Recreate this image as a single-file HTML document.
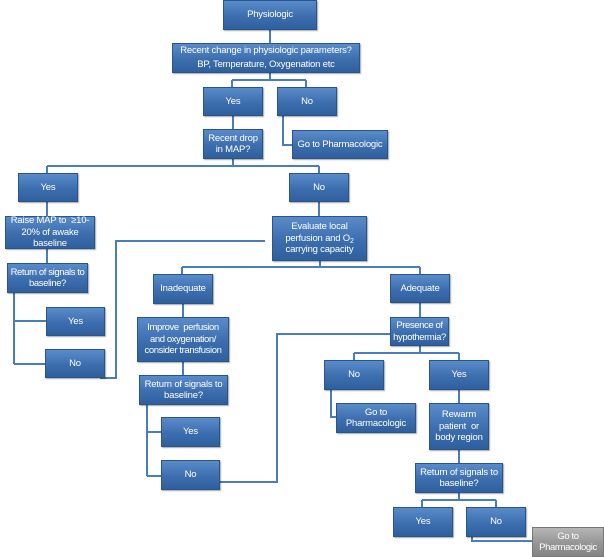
<!DOCTYPE html>
<html><head><style>
body{margin:0;background:#fff;width:604px;height:557px;position:relative;overflow:hidden;font-family:"Liberation Sans",sans-serif}
.b{position:absolute;box-sizing:border-box;background:linear-gradient(#5a8bc9,#3c6eaf 55%,#2f5f9d);border:1px solid #2a558c;color:#fff;font-size:9.5px;line-height:11.5px;display:flex;align-items:center;justify-content:center;text-align:center;box-shadow:1px 1px 1px rgba(0,0,0,.35);white-space:nowrap;letter-spacing:-0.2px}
.b>span{display:block}
.g{background:linear-gradient(#b5b5b5,#959595 55%,#858585);border-color:#777}
sub{font-size:7px;line-height:0;vertical-align:-2px}
svg{position:absolute;left:0;top:0}
</style></head><body>
<svg width="604" height="557"><g stroke="#4a7ebb" stroke-width="2" fill="none">
<path d="M270 30V43M270 73V80M232 80H306M232 80V87M306 80V87M233 116V129M283 116V145H292"/>
<path d="M233 159V166M47 166H319M47 166V173M319 166V173M47 202V216M319 202V216M47 249V263M14 293V364M14 321H46M14 364H45"/>
<path d="M265 241H116V378H100"/>
<path d="M320 261V267M182 267H420M182 267V274M420 267V274M183 304V317M183 362V375M420 303V317M147 405V476M147 432H161M147 476H161"/>
<path d="M220 482H277V334H390"/>
<path d="M420 346V353M354 353H459M354 353V360M459 353V360M331 390V417H336M459 390V403M459 450V463M459 493V500M422 500H496M422 500V507M496 500V507M472 537V541H532"/>
</g></svg>
<div class="b" style="left:223px;top:0;width:94px;height:30px"><span>Physiologic</span></div>
<div class="b" style="left:172px;top:43px;width:188px;height:30px;line-height:14px"><span>Recent change in physiologic parameters?<br>BP, Temperature, Oxygenation etc</span></div>
<div class="b" style="left:203px;top:87px;width:60px;height:29px"><span>Yes</span></div>
<div class="b" style="left:277px;top:87px;width:60px;height:29px"><span>No</span></div>
<div class="b" style="left:203px;top:129px;width:60px;height:30px"><span>Recent drop<br>in MAP?</span></div>
<div class="b" style="left:292px;top:130px;width:96px;height:29px"><span>Go to Pharmacologic</span></div>
<div class="b" style="left:18px;top:173px;width:60px;height:29px"><span>Yes</span></div>
<div class="b" style="left:289px;top:173px;width:60px;height:29px"><span>No</span></div>
<div class="b" style="left:5px;top:216px;width:90px;height:33px"><span>Raise MAP to &nbsp;≥10-<br>20% of awake<br>baseline</span></div>
<div class="b" style="left:272px;top:216px;width:95px;height:45px"><span>Evaluate local<br>perfusion and O<sub>2</sub><br>carrying capacity</span></div>
<div class="b" style="left:7px;top:263px;width:81px;height:30px;letter-spacing:-0.4px"><span>Return of signals to<br>baseline?</span></div>
<div class="b" style="left:46px;top:307px;width:59px;height:29px"><span>Yes</span></div>
<div class="b" style="left:45px;top:349px;width:60px;height:29px"><span>No</span></div>
<div class="b" style="left:153px;top:274px;width:60px;height:30px"><span>Inadequate</span></div>
<div class="b" style="left:390px;top:274px;width:60px;height:29px"><span>Adequate</span></div>
<div class="b" style="left:137px;top:317px;width:92px;height:45px;letter-spacing:-0.4px"><span>Improve &nbsp;perfusion<br>and oxygenation/<br>consider transfusion</span></div>
<div class="b" style="left:390px;top:317px;width:59px;height:29px;letter-spacing:-0.4px"><span>Presence of<br>hypothermia?</span></div>
<div class="b" style="left:139px;top:375px;width:89px;height:30px"><span>Return of signals to<br>baseline?</span></div>
<div class="b" style="left:161px;top:417px;width:59px;height:30px"><span>Yes</span></div>
<div class="b" style="left:161px;top:460px;width:59px;height:30px"><span>No</span></div>
<div class="b" style="left:324px;top:360px;width:60px;height:30px"><span>No</span></div>
<div class="b" style="left:429px;top:360px;width:60px;height:30px"><span>Yes</span></div>
<div class="b" style="left:336px;top:403px;width:80px;height:30px"><span>Go to<br>Pharmacologic</span></div>
<div class="b" style="left:429px;top:403px;width:60px;height:47px"><span>Rewarm<br>patient &nbsp;or<br>body region</span></div>
<div class="b" style="left:415px;top:463px;width:88px;height:30px"><span>Return of signals to<br>baseline?</span></div>
<div class="b" style="left:393px;top:507px;width:60px;height:30px"><span>Yes</span></div>
<div class="b" style="left:466px;top:507px;width:60px;height:30px"><span>No</span></div>
<div class="b g" style="left:532px;top:527px;width:72px;height:30px;letter-spacing:-0.4px"><span>Go to<br>Pharmacologic</span></div>
</body></html>
